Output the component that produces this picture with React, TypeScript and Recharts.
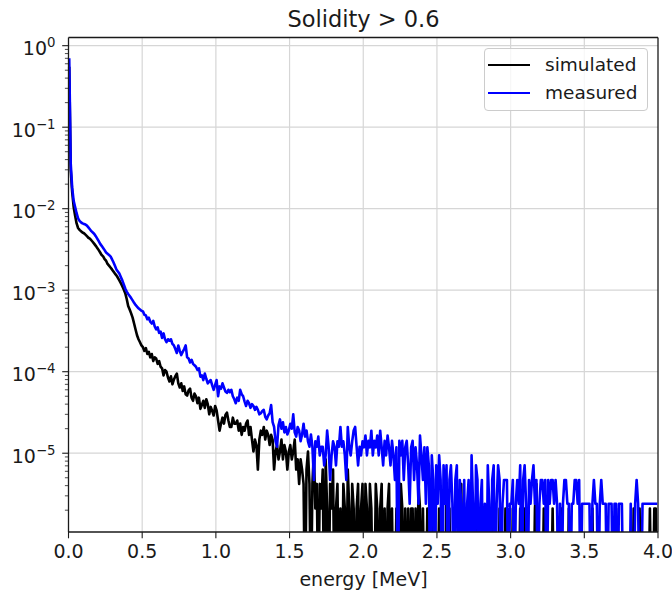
import React from 'react';
import { LineChart, Line, XAxis, YAxis, ReferenceLine, Legend } from 'recharts';

// histogram bin width in MeV, points sit on bin centres
const BIN_WIDTH = 0.01;

// simulated spectrum (normalised), 0.00 - 0.99 MeV
const simulated0 = [
  0.55, 0.03, 0.016, 0.0105, 0.0082, 0.0066, 0.0058, 0.0055, 0.0053, 0.0051,
  0.005, 0.0048, 0.0046, 0.0044, 0.0043, 0.0041, 0.0039, 0.0037, 0.0035, 0.0033,
  0.0031, 0.0029, 0.0027, 0.0026, 0.0024, 0.0023, 0.0021, 0.002, 0.0019, 0.0018,
  0.0017, 0.0016, 0.00152, 0.00142, 0.00132, 0.00122, 0.00112, 0.00102, 0.00092, 0.00078,
  0.00064, 0.00058, 0.00052, 0.00046, 0.00039, 0.00033, 0.00028, 0.00025, 0.00023, 0.00021,
  2.0e-4, 1.8e-4, 1.95e-4, 1.65e-4, 1.75e-4, 1.5e-4, 1.65e-4, 1.35e-4, 1.5e-4, 1.45e-4,
  1.25e-4, 1.35e-4, 1.15e-4, 1.1e-4, 9.0e-5, 1.05e-4, 1.0e-4, 8.5e-5, 7.6e-5, 8.8e-5,
  7.0e-5, 8.0e-5, 8.8e-5, 9.5e-5, 7.2e-5, 6.4e-5, 7.2e-5, 5.8e-5, 6.6e-5, 5.3e-5,
  5.1e-5, 5.9e-5, 6.2e-5, 4.8e-5, 4.4e-5, 5.4e-5, 5.0e-5, 4.1e-5, 4.8e-5, 3.5e-5,
  3.9e-5, 4.4e-5, 3.6e-5, 4.6e-5, 4.0e-5, 3.0e-5, 3.7e-5, 3.3e-5, 2.9e-5, 3.8e-5,
];
// 1.00 - 1.99 MeV
const simulated1 = [
  3.36e-5, 2.52e-5, 1.89e-5, 2.31e-5, 2.73e-5, 2.31e-5, 2.94e-5, 3.15e-5, 2.52e-5, 2.1e-5,
  2.1e-5, 2.73e-5, 2.31e-5, 2.31e-5, 2.52e-5, 1.89e-5, 2.31e-5, 1.68e-5, 2.1e-5, 1.89e-5,
  2.31e-5, 2.52e-5, 1.68e-5, 2.1e-5, 1.47e-5, 1.05e-5, 1.47e-5, 1.26e-5, 6.3e-6, 1.47e-5,
  1.89e-5, 1.68e-5, 2.1e-5, 1.47e-5, 1.89e-5, 1.68e-5, 1.26e-5, 1.68e-5, 1.47e-5, 6.3e-6,
  1.05e-5, 1.26e-5, 8.4e-6, 1.05e-5, 1.47e-5, 8.4e-6, 1.26e-5, 1.05e-5, 6.3e-6, 1.05e-5,
  1.26e-5, 8.4e-6, 1.05e-5, 1.47e-5, 6.3e-6, 8.4e-6, 4.2e-6, 8.4e-6, 6.3e-6, 4.2e-6,
  0, 6.3e-6, 1.05e-5, 4.2e-6, 0, 4.2e-6, 1.05e-5, 2.1e-6, 4.2e-6, 0,
  4.2e-6, 2.1e-6, 6.3e-6, 0, 8.4e-6, 2.1e-6, 0, 4.2e-6, 2.1e-6, 6.3e-6,
  0, 2.1e-6, 4.2e-6, 0, 2.1e-6, 0, 4.2e-6, 2.1e-6, 0, 6.3e-6,
  2.1e-6, 0, 4.2e-6, 2.1e-6, 0, 2.1e-6, 4.2e-6, 0, 2.1e-6, 4.2e-6,
];
// 2.00 - 2.99 MeV
const simulated2 = [
  0, 4.2e-6, 2.1e-6, 0, 4.2e-6, 2.1e-6, 0, 0, 4.2e-6, 2.1e-6,
  0, 2.1e-6, 4.2e-6, 0, 2.1e-6, 0, 2.1e-6, 4.2e-6, 0, 2.1e-6,
  0, 0, 2.1e-6, 2.1e-6, 0, 4.2e-6, 2.1e-6, 0, 2.1e-6, 0,
  2.1e-6, 0, 2.1e-6, 2.1e-6, 0, 2.1e-6, 0, 4.2e-6, 2.1e-6, 0,
  2.1e-6, 0, 0, 2.1e-6, 0, 2.1e-6, 4.2e-6, 0, 2.1e-6, 0,
  0, 2.1e-6, 0, 2.1e-6, 0, 0, 4.2e-6, 0, 2.1e-6, 0,
  0, 2.1e-6, 0, 0, 2.1e-6, 0, 4.2e-6, 0, 0, 2.1e-6,
  0, 0, 2.1e-6, 0, 0, 0, 2.1e-6, 0, 0, 2.1e-6,
  0, 0, 0, 2.1e-6, 0, 0, 2.1e-6, 0, 4.2e-6, 0,
  0, 0, 2.1e-6, 0, 0, 0, 2.1e-6, 0, 0, 0,
];
// 3.00 - 3.99 MeV
const simulated3 = [
  0, 2.1e-6, 0, 0, 0, 0, 2.1e-6, 0, 0, 2.1e-6,
  0, 0, 0, 0, 0, 0, 2.1e-6, 4.2e-6, 0, 0,
  0, 0, 2.1e-6, 0, 0, 0, 0, 0, 2.1e-6, 0,
  0, 0, 0, 0, 2.1e-6, 0, 0, 0, 0, 2.1e-6,
  0, 0, 0, 0, 0, 0, 0, 2.1e-6, 0, 0,
  0, 0, 0, 0, 0, 2.1e-6, 0, 0, 0, 0,
  0, 0, 0, 0, 0, 0, 0, 0, 0, 0,
  0, 2.1e-6, 0, 0, 0, 0, 0, 0, 0, 0,
  0, 0, 0, 2.1e-6, 0, 0, 0, 2.1e-6, 0, 0,
  0, 0, 0, 0, 2.1e-6, 0, 0, 2.1e-6, 2.1e-6, 0,
];

// measured spectrum (normalised), 0.00 - 0.99 MeV
const measured0 = [
  0.7, 0.036, 0.018, 0.0125, 0.0105, 0.0088, 0.0076, 0.0071, 0.0068, 0.0066,
  0.0065, 0.0064, 0.0062, 0.0059, 0.0056, 0.0053, 0.0051, 0.0049, 0.0046, 0.0043,
  0.004, 0.0037, 0.0035, 0.0033, 0.0031, 0.0029, 0.0028, 0.0027, 0.0026, 0.0024,
  0.0022, 0.002, 0.0018, 0.0017, 0.0016, 0.00145, 0.00132, 0.00118, 0.00105, 0.00096,
  0.0009, 0.00085, 0.0008, 0.00075, 0.0007, 0.00066, 0.00063, 0.0006, 0.00058, 0.00056,
  5.5e-4, 5.0e-4, 4.9e-4, 4.4e-4, 4.6e-4, 4.1e-4, 3.9e-4, 4.2e-4, 3.6e-4, 3.3e-4,
  3.5e-4, 3.0e-4, 3.1e-4, 2.6e-4, 2.95e-4, 2.5e-4, 2.3e-4, 2.5e-4, 2.4e-4, 2.5e-4,
  2.2e-4, 2.1e-4, 1.9e-4, 1.7e-4, 2.1e-4, 1.8e-4, 1.6e-4, 1.75e-4, 1.9e-4, 2.1e-4,
  1.5e-4, 1.45e-4, 1.3e-4, 1.4e-4, 1.25e-4, 1.2e-4, 1.15e-4, 1.05e-4, 1.1e-4, 8.7e-5,
  9.0e-5, 7.9e-5, 9.5e-5, 8.2e-5, 7.2e-5, 7.6e-5, 7.9e-5, 6.8e-5, 6.0e-5, 6.9e-5,
];
// 1.00 - 1.99 MeV
const measured1 = [
  7.9e-5, 5.0e-5, 6.6e-5, 6.2e-5, 7.2e-5, 6.4e-5, 5.7e-5, 5.5e-5, 6.0e-5, 5.6e-5,
  6.0e-5, 5.0e-5, 4.6e-5, 4.1e-5, 4.8e-5, 4.4e-5, 6.0e-5, 5.3e-5, 5.0e-5, 4.3e-5,
  3.8e-5, 4.4e-5, 4.1e-5, 3.6e-5, 4.0e-5, 3.8e-5, 3.4e-5, 3.7e-5, 3.4e-5, 3.0e-5,
  3.1e-5, 3.3e-5, 3.4e-5, 2.8e-5, 2.6e-5, 2.9e-5, 3.1e-5, 3.9e-5, 2.4e-5, 2.1e-5,
  1.4e-5, 1.2e-5, 2.2e-5, 2.6e-5, 2.0e-5, 2.4e-5, 1.8e-5, 2.1e-5, 1.7e-5, 1.9e-5,
  2.3e-5, 2.0e-5, 3.0e-5, 1.8e-5, 1.6e-5, 2.1e-5, 1.9e-5, 1.4e-5, 1.7e-5, 2.3e-5,
  1.6e-5, 1.9e-5, 1.4e-5, 1.2e-5, 1.7e-5, 1.2e-5, 4.7e-6, 1.4e-5, 1.2e-5, 1.6e-5,
  9.4e-6, 1.2e-5, 1.2e-5, 7.1e-6, 9.4e-6, 1.9e-5, 1.2e-5, 4.7e-6, 9.4e-6, 1.4e-5,
  1.2e-5, 7.1e-6, 1.4e-5, 1.2e-5, 2.1e-5, 1.2e-5, 1.4e-5, 9.4e-6, 4.7e-6, 2.1e-5,
  1.2e-5, 9.4e-6, 1.4e-5, 1.9e-5, 2.1e-5, 1.2e-5, 7.1e-6, 1.2e-5, 9.4e-6, 1.4e-5,
];
// 2.00 - 2.99 MeV
const measured2 = [
  1.18e-5, 1.65e-5, 9.4e-6, 1.42e-5, 1.18e-5, 1.89e-5, 9.4e-6, 1.42e-5, 1.18e-5, 1.65e-5,
  9.4e-6, 1.89e-5, 1.18e-5, 7.1e-6, 1.42e-5, 9.4e-6, 1.65e-5, 1.18e-5, 7.1e-6, 1.42e-5,
  9.4e-6, 4.7e-6, 1.18e-5, 0, 1.42e-5, 9.4e-6, 1.42e-5, 4.7e-6, 1.18e-5, 1.42e-5,
  7.1e-6, 2.4e-6, 1.18e-5, 1.42e-5, 4.7e-6, 1.18e-5, 7.1e-6, 2.4e-6, 1.65e-5, 9.4e-6,
  4.7e-6, 1.18e-5, 2.4e-6, 1.18e-5, 7.1e-6, 0, 9.4e-6, 4.7e-6, 0, 7.1e-6,
  2.4e-6, 9.4e-6, 4.7e-6, 0, 7.1e-6, 2.4e-6, 7.1e-6, 0, 4.7e-6, 7.1e-6,
  2.4e-6, 0, 4.7e-6, 7.1e-6, 0, 4.7e-6, 2.4e-6, 0, 4.7e-6, 0,
  2.4e-6, 4.7e-6, 0, 9.4e-6, 2.4e-6, 0, 7.1e-6, 4.7e-6, 0, 2.4e-6,
  4.7e-6, 0, 2.4e-6, 0, 7.1e-6, 2.4e-6, 0, 4.7e-6, 7.1e-6, 0,
  2.4e-6, 7.1e-6, 4.7e-6, 0, 2.4e-6, 4.7e-6, 4.7e-6, 4.7e-6, 0, 2.4e-6,
];
// 3.00 - 3.99 MeV
const measured3 = [
  2.4e-6, 4.7e-6, 0, 2.4e-6, 4.7e-6, 2.4e-6, 7.1e-6, 0, 4.7e-6, 7.1e-6,
  2.4e-6, 0, 4.7e-6, 2.4e-6, 4.7e-6, 7.1e-6, 2.4e-6, 4.7e-6, 0, 2.4e-6,
  4.7e-6, 4.7e-6, 2.4e-6, 4.7e-6, 0, 4.7e-6, 2.4e-6, 4.7e-6, 4.7e-6, 2.4e-6,
  4.7e-6, 2.4e-6, 0, 2.4e-6, 0, 2.4e-6, 4.7e-6, 4.7e-6, 2.4e-6, 2.4e-6,
  0, 2.4e-6, 2.4e-6, 4.7e-6, 4.7e-6, 2.4e-6, 4.7e-6, 0, 2.4e-6, 2.4e-6,
  2.4e-6, 2.4e-6, 2.4e-6, 2.4e-6, 0, 2.4e-6, 4.7e-6, 2.4e-6, 2.4e-6, 0,
  2.4e-6, 4.7e-6, 2.4e-6, 2.4e-6, 2.4e-6, 0, 2.4e-6, 2.4e-6, 2.4e-6, 0,
  2.4e-6, 2.4e-6, 0, 2.4e-6, 2.4e-6, 2.4e-6, 0, 0, 0, 0,
  0, 2.4e-6, 0, 0, 2.4e-6, 4.7e-6, 2.4e-6, 0, 0, 2.4e-6,
  2.4e-6, 2.4e-6, 2.4e-6, 2.4e-6, 2.4e-6, 2.4e-6, 2.4e-6, 2.4e-6, 2.4e-6, 2.4e-6,
];

const seriesOrder = ['simulated', 'measured'];
const xTicks = [0, 0.5, 1, 1.5, 2, 2.5, 3, 3.5, 4];
const yTicks = [1e-5, 1e-4, 1e-3, 1e-2, 1e-1, 1];
const yTickExponents = ['\u22125', '\u22124', '\u22123', '\u22122', '\u22121', '0'];

const Y_MIN = 1.08e-6;
const Y_MAX = 1.26;
// empty bins: log(0) is undefined, push them below the axis like matplotlib does
const ZERO_FLOOR = 1e-7;

const simulated = [...simulated0, ...simulated1, ...simulated2, ...simulated3];
const measured = [...measured0, ...measured1, ...measured2, ...measured3];

const data = simulated.map((s, i) => ({
  energy: +(BIN_WIDTH * (i + 0.5)).toFixed(3),
  simulated: s > 0 ? s : ZERO_FLOOR,
  measured: measured[i] > 0 ? measured[i] : ZERO_FLOOR,
}));

// log minor ticks 2..9 x 10^k
const minorTicks: number[] = [];
for (let e = -6; e <= 0; e++) {
  for (let m = 2; m <= 9; m++) {
    const v = m * Math.pow(10, e);
    if (v > Y_MIN && v < Y_MAX) minorTicks.push(v);
  }
}

const GRID = '#d6d6d6';
const INK = '#1a1a1a';

function YTick(props: any) {
  const { x, y, payload } = props;
  const idx = yTicks.findIndex((t) => Math.abs(t - payload.value) / t < 1e-6);
  const major = idx >= 0;
  return (
    <g>
      <line x1={x - (major ? 6.3 : 3.6)} x2={x} y1={y} y2={y} stroke={INK} strokeWidth={major ? 1.1 : 0.8} />
      {major && (
        <text x={x - 13} y={y + 9.5} textAnchor="end" fill={INK} fontSize={19}>
          10<tspan dy={-8} fontSize={13.3}>{yTickExponents[idx]}</tspan>
        </text>
      )}
    </g>
  );
}

function LegendBox(props: any) {
  const items = [...(props.payload || [])].sort(
    (a: any, b: any) => seriesOrder.indexOf(a.value) - seriesOrder.indexOf(b.value)
  );
  return (
    <div
      style={{
        width: 164,
        height: 63,
        boxSizing: 'border-box',
        border: '1px solid #cccccc',
        borderRadius: 4,
        background: 'rgba(255,255,255,0.8)',
        position: 'relative',
      }}
    >
      {items.map((item: any, idx: number) => (
        <div
          key={item.value}
          style={{ position: 'absolute', left: 3, top: 5 + idx * 28, height: 22, display: 'flex', alignItems: 'center' }}
        >
          <span style={{ display: 'inline-block', width: 42, height: 2.6, background: item.color }} />
          <span style={{ marginLeft: 15, fontSize: 18.5, lineHeight: '22px', color: INK }}>{item.value}</span>
        </div>
      ))}
    </div>
  );
}

export default function App() {
  return (
    <div
      style={{
        position: 'absolute',
        left: 0,
        top: 0,
        width: 672,
        height: 594,
        background: '#fff',
        fontFamily: '"DejaVu Sans", sans-serif',
      }}
    >
      <div style={{ position: 'absolute', left: 68.5, width: 590, top: 7, lineHeight: '24px', textAlign: 'center', fontSize: 22.5, color: INK }}>
        Solidity &gt; 0.6
      </div>
      <LineChart width={672} height={594} data={data} margin={{ top: 37.5, right: 14, bottom: 0, left: 0 }}>
        {xTicks.slice(1, -1).map((t) => (
          <ReferenceLine key={'gx' + t} x={t} stroke={GRID} strokeWidth={1.2} />
        ))}
        {yTicks.map((t) => (
          <ReferenceLine key={'gy' + t} y={t} stroke={GRID} strokeWidth={1.2} />
        ))}
        <XAxis
          dataKey="energy"
          type="number"
          domain={[0, 4]}
          ticks={xTicks}
          interval={0}
          height={62}
          tickFormatter={(v: number) => v.toFixed(1)}
          tick={{ fill: INK, fontSize: 19 }}
          tickSize={6.3}
          tickMargin={6.5}
          tickLine={{ stroke: INK, strokeWidth: 1.1 }}
          axisLine={{ stroke: INK, strokeWidth: 1.3 }}
        />
        <YAxis
          type="number"
          scale="log"
          domain={[Y_MIN, Y_MAX]}
          allowDataOverflow
          ticks={[...minorTicks, ...yTicks]}
          interval={0}
          width={68.5}
          tick={<YTick />}
          tickLine={false}
          tickSize={0}
          tickMargin={0}
          axisLine={{ stroke: INK, strokeWidth: 1.3 }}
        />
        <ReferenceLine x={4} stroke={INK} strokeWidth={1.3} />
        <ReferenceLine y={Y_MAX} stroke={INK} strokeWidth={1.3} />
        <Line
          type="linear"
          dataKey="simulated"
          name="simulated"
          stroke="#000000"
          strokeWidth={2.6}
          strokeLinejoin="round"
          dot={false}
          activeDot={false}
          isAnimationActive={false}
        />
        <Line
          type="linear"
          dataKey="measured"
          name="measured"
          stroke="#0000ff"
          strokeWidth={2.6}
          strokeLinejoin="round"
          dot={false}
          activeDot={false}
          isAnimationActive={false}
        />
        <Legend
          layout="vertical"
          align="center"
          verticalAlign="middle"
          content={<LegendBox />}
          wrapperStyle={{ left: 484, top: 48, width: 164, height: 63 }}
        />
      </LineChart>
      <div style={{ position: 'absolute', left: 68.5, width: 590, top: 568, lineHeight: '22px', textAlign: 'center', fontSize: 19, color: INK }}>
        energy [MeV]
      </div>
    </div>
  );
}
